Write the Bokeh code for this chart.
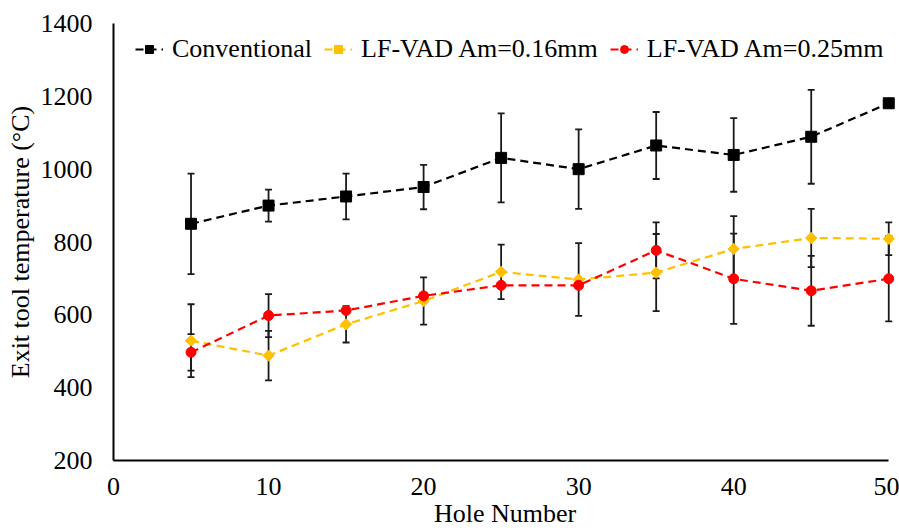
import numpy as np
from bokeh.plotting import figure
from bokeh.models import Range1d, FixedTicker, Legend, LegendItem
from bokeh.embed import file_html
from bokeh.resources import INLINE

holes = [5, 10, 15, 20, 25, 30, 35, 40, 45, 50]

conv = [850, 900, 925, 951, 1031, 1000, 1065, 1039, 1089, 1181]
conv_err = [138, 44, 63, 61, 122, 109, 92, 101, 129, np.nan]

vad16 = [529, 488, 574, 638, 718, 697, 716, 781, 811, 809]
vad16_err = [100, 68, 50, 65, 75, 100, 106, 90, 80, 45]

vad25 = [497, 598, 612, 652, 681, 681, 777, 699, 666, 699]
vad25_err = [50, 59, np.nan, np.nan, np.nan, np.nan, 77, 124, 96, 117]

x_ticks = [0, 10, 20, 30, 40, 50]
y_ticks = [200, 400, 600, 800, 1000, 1200, 1400]

FONT = "Liberation Serif"
FS = "26px"

p = figure(width=899, height=530, output_backend="svg", toolbar_location=None,
           x_range=Range1d(0, 50.5), y_range=Range1d(200, 1400),
           min_border_left=113, min_border_right=3, min_border_top=23, min_border_bottom=68)

p.outline_line_color = None
p.grid.grid_line_color = None

for ax in (p.xaxis[0], p.yaxis[0]):
    ax.axis_line_color = "black"
    ax.axis_line_width = 2
    ax.major_tick_line_color = None
    ax.minor_tick_line_color = None
    ax.major_tick_out = 0
    ax.major_tick_in = 0
    ax.minor_tick_out = 0
    ax.major_label_text_font = FONT
    ax.major_label_text_font_size = FS
    ax.major_label_text_color = "black"
    ax.axis_label_text_font = FONT
    ax.axis_label_text_font_size = FS
    ax.axis_label_text_font_style = "normal"
    ax.axis_label_text_color = "black"

p.xaxis.bounds = (0, 50)
p.xaxis.ticker = FixedTicker(ticks=x_ticks)
p.yaxis.ticker = FixedTicker(ticks=y_ticks)
p.xaxis.axis_label = "Hole Number"
p.yaxis.axis_label = "Exit tool temperature (°C)"
p.xaxis.major_label_standoff = 17
p.xaxis.axis_label_standoff = 1
p.yaxis.major_label_standoff = 21
p.yaxis.axis_label_standoff = 3

series = [
    (conv, conv_err, "black", "square", 11, 0.0, "Conventional"),
    (vad16, vad16_err, "#FFC000", "square", 8, np.pi / 4, "LF-VAD Am=0.16mm"),
    (vad25, vad25_err, "#FF0000", "circle", 10, 0.0, "LF-VAD Am=0.25mm"),
]

# error bars
for vals, errs, *_ in series:
    v = np.array(vals, dtype=float)
    e = np.array(errs, dtype=float)
    hx = [h for h, ee in zip(holes, e) if not np.isnan(ee)]
    lo = (v - e)[~np.isnan(e)]
    hi = (v + e)[~np.isnan(e)]
    p.segment(x0=hx, y0=lo, x1=hx, y1=hi, line_color="#1a1a1a", line_width=1.8)
    p.scatter(x=hx + hx, y=list(lo) + list(hi), marker="dash", size=7,
              line_color="#1a1a1a", line_width=1.8)

items = []
for vals, errs, color, marker, size, ang, label in series:
    ln = p.line(holes, vals, line_color=color, line_width=2.2, line_dash="8 5")
    sc = p.scatter(holes, vals, marker=marker, size=size, angle=ang,
                   fill_color=color, line_color=color)
    items.append(LegendItem(label=label, renderers=[ln, sc]))

legend = Legend(items=items, orientation="horizontal", location=(22, 396),
                label_text_font=FONT, label_text_font_size=FS,
                label_text_color="black", glyph_width=28, glyph_height=20,
                label_standoff=9, spacing=12, padding=0, margin=0,
                border_line_color=None, background_fill_alpha=0)
p.add_layout(legend)

open("out.html", "w").write(file_html(p, INLINE))
